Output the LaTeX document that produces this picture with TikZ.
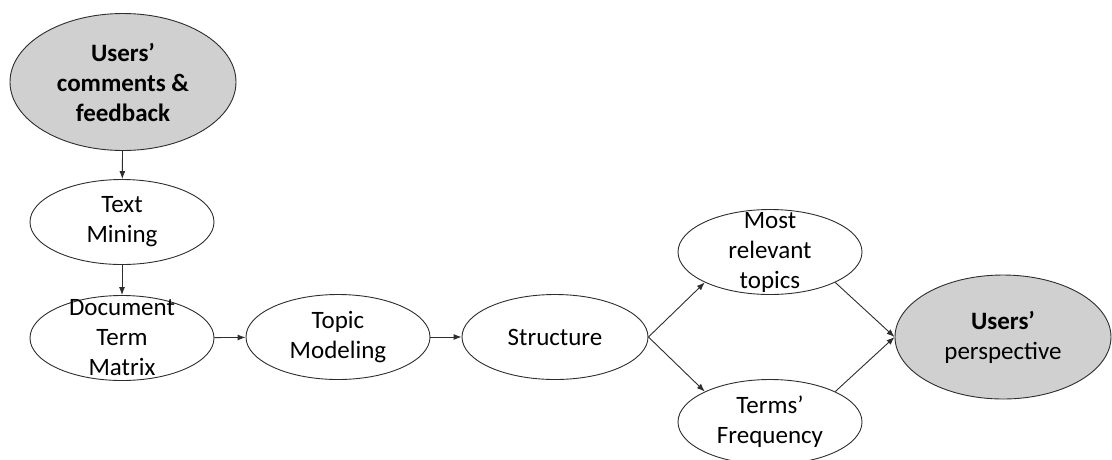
\documentclass[tikz,border=0pt]{standalone}
\usepackage{fontspec}
\setmainfont{Carlito}
\usetikzlibrary{shapes.geometric,arrows.meta}
\definecolor{shade}{RGB}{208,208,208}
\definecolor{ink}{RGB}{45,45,45}
\begin{document}
\begin{tikzpicture}[x=1pt,y=-1pt,
  % fixed-size ellipse; the words sit in a centred label so they can overflow the outline
  blob/.style={ellipse,draw=ink,line width=0.9pt,inner sep=0pt,
    minimum width=184pt,minimum height=85pt,
    label={[align=center,inner sep=0pt,font=\fontsize{25}{30}\selectfont]center:#1}},
  keyblob/.style={blob={#1},fill=shade},
  flow/.style={draw=ink,line width=0.9pt,-{Latex[length=8pt,width=6pt]}}]
\useasboundingbox (0,0) rectangle (1112,459);
\clip (0,0) rectangle (1112,459);
\node[keyblob={\bfseries Users’\\\bfseries comments \&\\\bfseries feedback},
  minimum width=226pt,minimum height=137pt] (fb) at (123,82) {};
\node[blob={Text\\Mining}] (tm) at (122,222) {};
\node[blob={Document\\Term\\Matrix}] (dtm) at (122,338) {};
\node[blob={Topic\\Modeling}] (top) at (338,337) {};
\node[blob={Structure},minimum width=186pt] (st) at (555,337) {};
\node[blob={Most\\relevant\\topics}] (mr) at (770,252) {};
\node[blob={Terms’\\Frequency}] (tf) at (770,422) {};
\node[keyblob={\bfseries Users’\\perspective},minimum width=216pt,minimum height=124pt]
  (up) at (1003,337) {};
\draw[flow] (fb) -- (tm);
\draw[flow] (tm) -- (dtm);
\draw[flow] (dtm) -- (top);
\draw[flow] (top) -- (st);
\draw[flow] (st.east) -- (mr.205);
\draw[flow] (st.east) -- (tf.155);
\draw[flow] (mr.-25) -- (up.west);
\draw[flow] (tf.25) -- (up.west);
\end{tikzpicture}
\end{document}
